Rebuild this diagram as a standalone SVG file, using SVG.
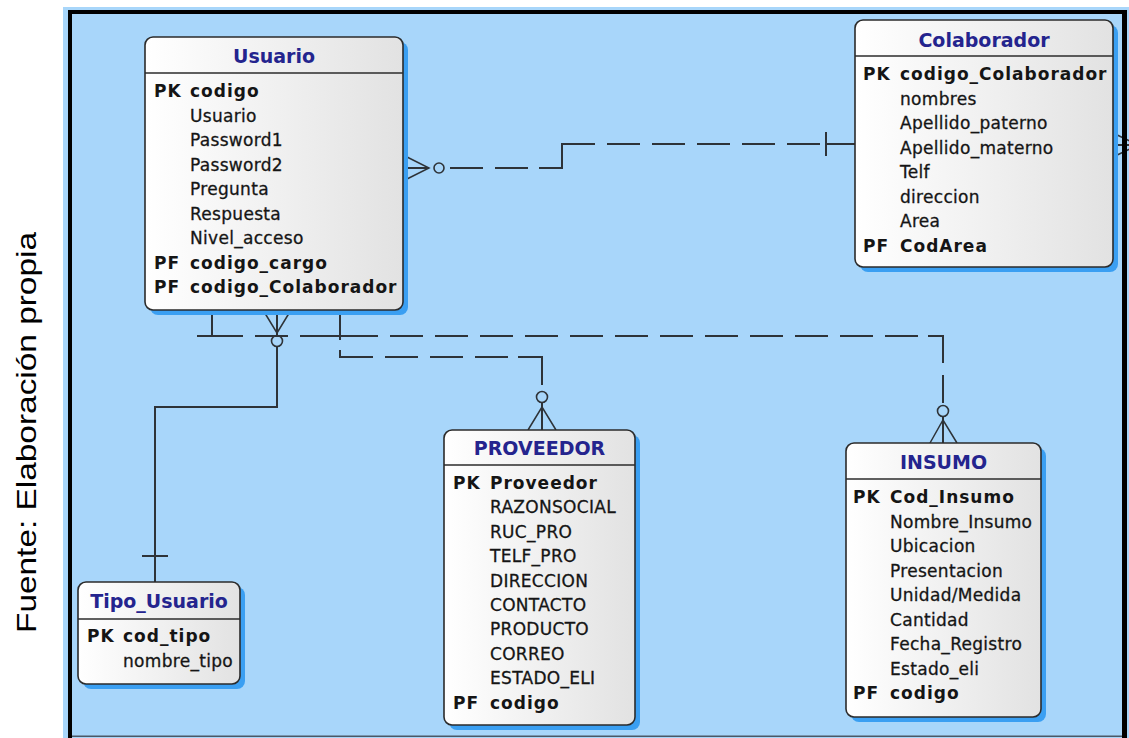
<svg xmlns="http://www.w3.org/2000/svg" width="1129" height="738" viewBox="0 0 1129 738">
  <defs>
    <linearGradient id="boxFill" x1="0" y1="0" x2="1" y2="0">
      <stop offset="0" stop-color="#ffffff"/>
      <stop offset="1" stop-color="#e2e2e2"/>
    </linearGradient>
    <style>
      .shadow { fill: #3a9ff2; }
      .box { fill: url(#boxFill); stroke: #2b2b2b; stroke-width: 1.6; }
      .sep { stroke: #2b2b2b; stroke-width: 1.4; }
      .t { font-family: "DejaVu Sans", Verdana, sans-serif; font-weight: bold; font-size: 19px; fill: #24248e; text-anchor: middle; }
      .k { font-family: "DejaVu Sans", Verdana, sans-serif; font-weight: bold; font-size: 17px; letter-spacing: 1px; fill: #151515; }
      .a { font-family: "DejaVu Sans", Verdana, sans-serif; font-size: 17px; letter-spacing: 0.3px; fill: #151515; stroke: #151515; stroke-width: 0.3; }
      .ln { fill: none; stroke: #2e3338; stroke-width: 2; }
      .dash { fill: none; stroke: #2e3338; stroke-width: 2; stroke-dasharray: 33 12; }
      .crow { fill: none; stroke: #2e3338; stroke-width: 1.5; }
      .ring { fill: #a8d6fa; stroke: #2e3338; stroke-width: 1.6; }
      .cap { font-family: "Liberation Sans", Arial, sans-serif; font-size: 28px; fill: #000; }
    </style>
  </defs>

  <!-- page and canvas -->
  <rect x="0" y="0" width="1129" height="738" fill="#ffffff"/>
  <rect x="63" y="7" width="1066" height="731" fill="#a8d6fa"/>

  <!-- side caption -->
  <text class="cap" transform="translate(36,633) rotate(-90)" textLength="401" lengthAdjust="spacingAndGlyphs">Fuente: Elaboración propia</text>

  <!-- relationships -->
  <g id="connectors">
    <!-- Usuario >o - | Colaborador -->
    <path class="ln" d="M403,168 H429"/>
    <path class="crow" d="M405,156 L429,168 L405,180"/>
    <circle class="ring" cx="439" cy="168" r="5"/>
    <path class="dash" d="M450,168 H539"/>
    <path class="ln" d="M539,168 H562 V144 H595"/>
    <path class="dash" d="M607,144 H820"/>
    <path class="ln" d="M826,144 H855 M826,132 V156"/>

    <!-- Colaborador outgoing relation -->
    <path class="ln" d="M1113,145 H1129"/>
    <path class="crow" d="M1113,133 L1138,145 L1113,157"/>

    <!-- Usuario >o - | Tipo_Usuario -->
    <path class="ln" d="M277,310 V407 H155 V582 M142,556 H168"/>
    <path class="crow" d="M263,310 L277,333 L291,310"/>
    <circle class="ring" cx="277" cy="341" r="5.5"/>

    <!-- Usuario - INSUMO -->
    <path class="ln" d="M212,310 V336 M197,336 H243 M255,336 H288 M300,336 H378"/>
    <path class="dash" d="M390,336 H928"/>
    <path class="ln" d="M928,336 H943 V363 M943,375 V403 M943,416 V443"/>
    <circle class="ring" cx="943" cy="411" r="5.5"/>
    <path class="crow" d="M930,443 L943,420 L957,443"/>

    <!-- Usuario - PROVEEDOR -->
    <path class="ln" d="M340,310 V340 M340,350 V357 H373"/>
    <path class="dash" d="M385,357 H518"/>
    <path class="ln" d="M518,357 H542 V385 M542,402 V430"/>
    <circle class="ring" cx="542" cy="397" r="5.5"/>
    <path class="crow" d="M528,430 L542,407 L556,430"/>
  </g>

  <!-- Usuario -->
  <g id="usuario">
    <rect class="shadow" x="150" y="42" width="258" height="273" rx="8"/>
    <rect class="box" x="145" y="37" width="258" height="273" rx="8"/>
    <line class="sep" x1="145" y1="73" x2="403" y2="73"/>
    <text class="t" x="274" y="63">Usuario</text>
    <text class="k" x="154" y="97">PK</text><text class="k" x="190" y="97">codigo</text>
    <text class="a" x="190" y="121.5">Usuario</text>
    <text class="a" x="190" y="146">Password1</text>
    <text class="a" x="190" y="170.5">Password2</text>
    <text class="a" x="190" y="195">Pregunta</text>
    <text class="a" x="190" y="219.5">Respuesta</text>
    <text class="a" x="190" y="244">Nivel_acceso</text>
    <text class="k" x="154" y="268.5">PF</text><text class="k" x="190" y="268.5">codigo_cargo</text>
    <text class="k" x="154" y="293">PF</text><text class="k" x="190" y="293">codigo_Colaborador</text>
  </g>

  <!-- Colaborador -->
  <g id="colaborador">
    <rect class="shadow" x="860" y="25" width="258" height="247" rx="8"/>
    <rect class="box" x="855" y="20" width="258" height="247" rx="8"/>
    <line class="sep" x1="855" y1="56" x2="1113" y2="56"/>
    <text class="t" x="984" y="47">Colaborador</text>
    <text class="k" x="863" y="80">PK</text><text class="k" x="900" y="80">codigo_Colaborador</text>
    <text class="a" x="900" y="104.5">nombres</text>
    <text class="a" x="900" y="129">Apellido_paterno</text>
    <text class="a" x="900" y="153.5">Apellido_materno</text>
    <text class="a" x="900" y="178">Telf</text>
    <text class="a" x="900" y="202.5">direccion</text>
    <text class="a" x="900" y="227">Area</text>
    <text class="k" x="863" y="251.5">PF</text><text class="k" x="900" y="251.5">CodArea</text>
  </g>

  <!-- Tipo_Usuario -->
  <g id="tipo_usuario">
    <rect class="shadow" x="83" y="587" width="162" height="102" rx="8"/>
    <rect class="box" x="78" y="582" width="162" height="102" rx="8"/>
    <line class="sep" x1="78" y1="619" x2="240" y2="619"/>
    <text class="t" x="159" y="608">Tipo_Usuario</text>
    <text class="k" x="87" y="642">PK</text><text class="k" x="123" y="642">cod_tipo</text>
    <text class="a" x="123" y="667">nombre_tipo</text>
  </g>

  <!-- PROVEEDOR -->
  <g id="proveedor">
    <rect class="shadow" x="449" y="435" width="191" height="295" rx="8"/>
    <rect class="box" x="444" y="430" width="191" height="295" rx="8"/>
    <line class="sep" x1="444" y1="465" x2="635" y2="465"/>
    <text class="t" x="539.5" y="455">PROVEEDOR</text>
    <text class="k" x="453" y="489">PK</text><text class="k" x="490" y="489">Proveedor</text>
    <text class="a" x="490" y="513.4">RAZONSOCIAL</text>
    <text class="a" x="490" y="537.8">RUC_PRO</text>
    <text class="a" x="490" y="562.2">TELF_PRO</text>
    <text class="a" x="490" y="586.6">DIRECCION</text>
    <text class="a" x="490" y="611">CONTACTO</text>
    <text class="a" x="490" y="635.4">PRODUCTO</text>
    <text class="a" x="490" y="659.8">CORREO</text>
    <text class="a" x="490" y="684.2">ESTADO_ELI</text>
    <text class="k" x="453" y="708.6">PF</text><text class="k" x="490" y="708.6">codigo</text>
  </g>

  <!-- INSUMO -->
  <g id="insumo">
    <rect class="shadow" x="851" y="448" width="195" height="274" rx="8"/>
    <rect class="box" x="846" y="443" width="195" height="274" rx="8"/>
    <line class="sep" x1="846" y1="479" x2="1041" y2="479"/>
    <text class="t" x="943.5" y="469">INSUMO</text>
    <text class="k" x="853" y="503">PK</text><text class="k" x="890" y="503">Cod_Insumo</text>
    <text class="a" x="890" y="527.5">Nombre_Insumo</text>
    <text class="a" x="890" y="552">Ubicacion</text>
    <text class="a" x="890" y="576.5">Presentacion</text>
    <text class="a" x="890" y="601">Unidad/Medida</text>
    <text class="a" x="890" y="625.5">Cantidad</text>
    <text class="a" x="890" y="650">Fecha_Registro</text>
    <text class="a" x="890" y="674.5">Estado_eli</text>
    <text class="k" x="853" y="699">PF</text><text class="k" x="890" y="699">codigo</text>
  </g>

  <!-- canvas frame -->
  <rect x="68" y="10" width="1059" height="4" fill="#000"/>
  <rect x="68" y="10" width="4" height="728" fill="#000"/>
  <rect x="1122" y="10" width="5" height="728" fill="#000"/>
  <rect x="72" y="735.5" width="1050" height="1.5" fill="#4a5866"/>
</svg>
